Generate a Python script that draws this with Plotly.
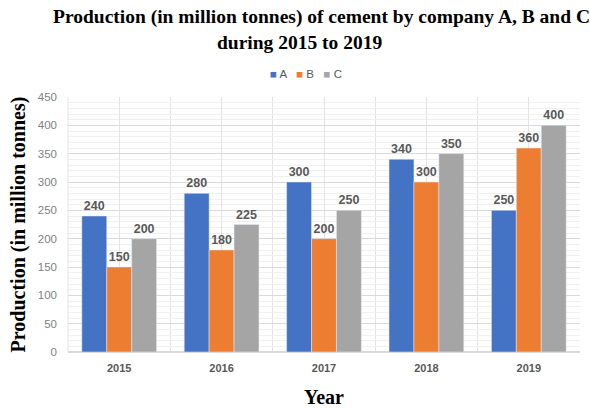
import plotly.graph_objects as go

years = [2015, 2016, 2017, 2018, 2019]
series_names = ["A", "B", "C"]
values_a = [240, 280, 300, 340, 250]
values_b = [150, 180, 200, 300, 360]
values_c = [200, 225, 250, 350, 400]
colors = ["#4472C4", "#ED7D31", "#A5A5A5"]
year_labels = ["2015", "2016", "2017", "2018", "2019"]

fig = go.Figure()
for name, vals, col in zip(series_names, [values_a, values_b, values_c], colors):
    fig.add_trace(go.Bar(
        x=years, y=vals, name=name, marker_color=col,
        text=["<b>%d</b>" % v for v in vals], textposition="outside",
        textfont=dict(family="Liberation Sans, Arial", size=12.5, color="#595959"),
        cliponaxis=False,
    ))

fig.update_layout(
    width=590, height=410,
    margin=dict(l=68, r=10, t=97, b=58, autoexpand=False),
    paper_bgcolor="white", plot_bgcolor="white",
    barmode="group", bargap=0.27, bargroupgap=0,
    showlegend=False,
    font=dict(family="Liberation Sans, Arial"),
)
fig.update_yaxes(
    range=[0, 450], dtick=50, showgrid=True, gridcolor="#D9D9D9", gridwidth=1,
    minor=dict(dtick=10, showgrid=True, gridcolor="#F0F0F0", gridwidth=1),
    tickfont=dict(size=11.5, color="#7F7F7F"), zeroline=True, zerolinecolor="#D9D9D9",
    showline=False, ticks="", ticklabelstandoff=10, automargin=False,
    title=dict(text="<b>Production (in million tonnes)</b>",
               font=dict(family="Liberation Serif, Times New Roman", size=20, color="black"),
               standoff=6),
)
fig.update_xaxes(
    range=[2014.5, 2019.5], tickvals=years, ticktext=["<b>%s</b>" % t for t in year_labels],
    showgrid=True, gridcolor="#E3E3E3",
    minor=dict(dtick=0.5, tick0=2014.5, showgrid=True, gridcolor="#E3E3E3"),
    tickfont=dict(size=11, color="#595959"), ticks="", showline=True, linecolor="#D9D9D9",
    mirror=False, automargin=False, ticklabelstandoff=6,
    title=dict(text="<b>Year</b>",
               font=dict(family="Liberation Serif, Times New Roman", size=20, color="black"),
               standoff=16),
)
fig.add_annotation(text="<b>Production (in million tonnes) of cement by company A, B and C</b>",
                   xref="paper", yref="paper", x=(321 - 68) / 512, y=(410 - 58 - 17) / 255,
                   showarrow=False, xanchor="center", yanchor="middle",
                   font=dict(family="Liberation Serif, Times New Roman", size=19.5, color="black"))
fig.add_annotation(text="<b>during 2015 to 2019</b>",
                   xref="paper", yref="paper", x=(299 - 68) / 512, y=(410 - 58 - 42) / 255,
                   showarrow=False, xanchor="center", yanchor="middle",
                   font=dict(family="Liberation Serif, Times New Roman", size=19.5, color="black"))
legend_text = "   ".join(
    "<span style='color:%s'>■</span> %s" % (c, n) for c, n in zip(colors, series_names))
fig.add_annotation(text=legend_text, xref="paper", yref="paper",
                   x=(306 - 68) / 512, y=(410 - 58 - 74) / 255, showarrow=False,
                   xanchor="center", yanchor="middle",
                   font=dict(family="Liberation Sans, Arial", size=11.5, color="#595959"))
fig.add_shape(type="line", xref="paper", yref="paper", x0=0, x1=0, y0=0, y1=1,
              line=dict(color="#E3E3E3", width=1))
fig.write_html("out.html", config={"displayModeBar": False},
               post_script="document.body.style.margin='0';")
